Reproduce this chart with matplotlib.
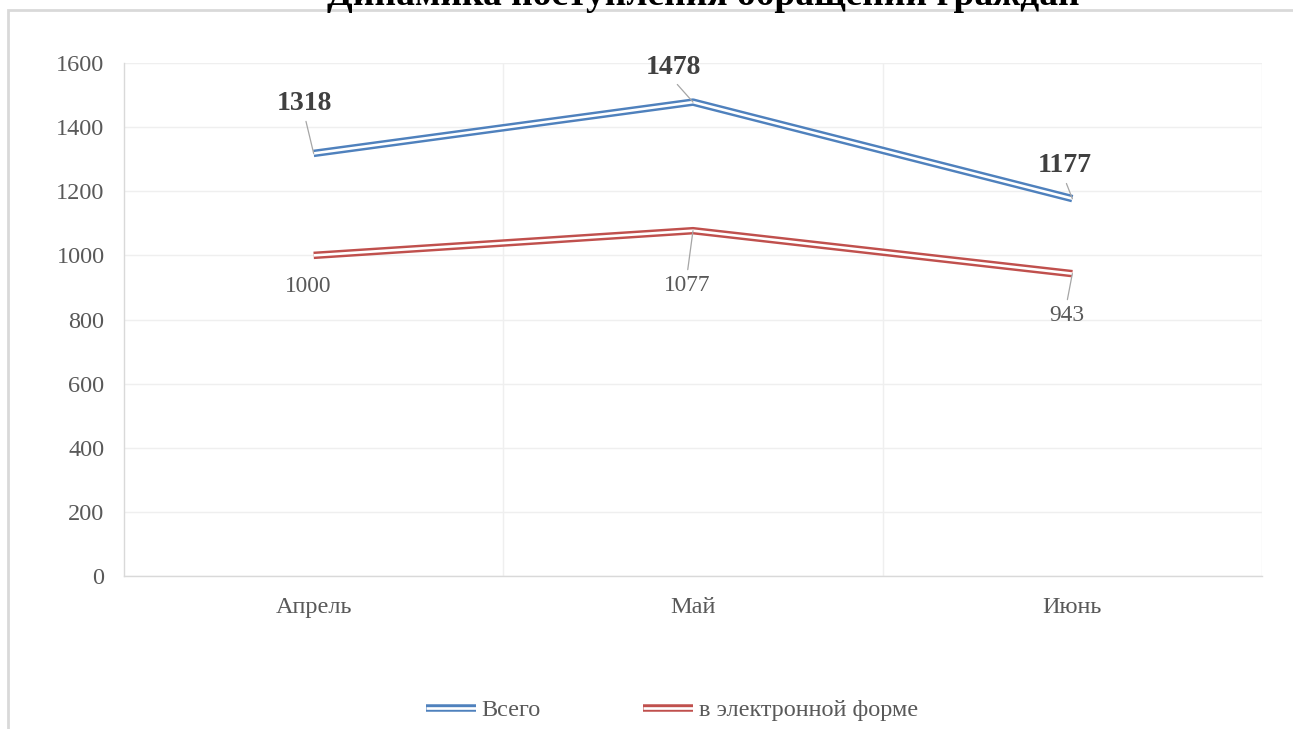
import matplotlib
matplotlib.use("Agg")
import matplotlib.pyplot as plt
from matplotlib.lines import Line2D
from matplotlib.legend_handler import HandlerTuple
from matplotlib.patches import Rectangle

months = ["Апрель", "Май", "Июнь"]
total = [1318, 1478, 1177]
electronic = [1000, 1077, 943]
series_names = ["Всего", "в электронной форме"]
title = "Динамика поступления обращений граждан"
yticks = [0, 200, 400, 600, 800, 1000, 1200, 1400, 1600]

BLUE = "#4f81bd"
RED = "#c0504d"
TXT = "#595959"
FONT = "Liberation Serif"

W, H = 1293, 729
fig = plt.figure(figsize=(W / 100, H / 100), dpi=100)
plt.rcParams["font.family"] = [FONT, "DejaVu Sans"]

# chart border (partially visible)
fig.add_artist(Rectangle((8 / W, -0.1), 1.2, 1 - 10 / H + 0.1, transform=fig.transFigure,
                         fill=False, edgecolor="#d9d9d9", lw=2.0))

ax = fig.add_axes([124 / W, 1 - 576 / H, (1262 - 124) / W, (576 - 63) / H])
x = list(range(len(months)))

LW_OUT, LW_IN = 5.4, 1.9

def double_line(xs, ys, color):
    ax.plot(xs, ys, color=color, lw=LW_OUT, solid_capstyle="butt", zorder=3)
    ax.plot(xs, ys, color="white", lw=LW_IN, solid_capstyle="butt", zorder=4)

double_line(x, total, BLUE)
double_line(x, electronic, RED)

ax.set_xlim(-0.5, len(months) - 0.5)
ax.set_ylim(0, 1600)
ax.set_yticks(yticks)
ax.set_xticks(x)
ax.set_xticklabels(months)
ax.set_xticks([i + 0.5 for i in x], minor=True)
ax.grid(True, which="major", axis="y", color="#efefef", lw=1.0)
ax.grid(True, which="minor", axis="x", color="#efefef", lw=1.0)
ax.tick_params(which="both", length=0)
ax.tick_params(axis="y", pad=14, labelsize=17.5, labelcolor=TXT)
ax.tick_params(axis="x", pad=15, labelsize=17.5, labelcolor=TXT)
for s in ["top", "right"]:
    ax.spines[s].set_visible(False)
for s in ["left", "bottom"]:
    ax.spines[s].set_color("#d9d9d9")
    ax.spines[s].set_linewidth(1.0)
ax.set_axisbelow(True)

# data labels
total_offsets = [(-9, 50), (-20, 35), (-8, 33)]
elec_offsets = [(-5, -31), (-6, -55), (-6, -42)]
for i, v in enumerate(total):
    ax.annotate(str(v), xy=(i, v), xytext=total_offsets[i], textcoords="offset pixels",
                ha="center", va="center", fontsize=20, fontweight="bold", color="#404040",
                arrowprops=dict(arrowstyle="-", color="#a6a6a6", lw=0.9, shrinkA=2, shrinkB=0,
                                relpos=(0.5, 0.0)), zorder=5)
for i, v in enumerate(electronic):
    ap = None
    if i != 0:
        ap = dict(arrowstyle="-", color="#a6a6a6", lw=0.9, shrinkA=2, shrinkB=0, relpos=(0.5, 1.0))
    ax.annotate(str(v), xy=(i, v), xytext=elec_offsets[i], textcoords="offset pixels",
                ha="center", va="center", fontsize=16.8, color=TXT, arrowprops=ap, zorder=5)

# title (cut off at top, as in the reference)
fig.text(703 / W, 1 - 5 / H, title, ha="center", va="baseline", fontsize=27,
         fontweight="bold", color="black")

# legend with double-line handles
handles = []
for c in (BLUE, RED):
    handles.append((Line2D([], [], color=c, lw=LW_OUT, solid_capstyle="butt"),
                    Line2D([], [], color="white", lw=LW_IN, solid_capstyle="butt")))
fig.legend(handles, series_names, handler_map={tuple: HandlerTuple(ndivide=1)},
           loc="center", bbox_to_anchor=(672 / W, 1 - 710 / H), ncol=2, frameon=False,
           fontsize=17.5, labelcolor=TXT, handlelength=2.05, handletextpad=0.25,
           columnspacing=4.2)

fig.savefig("out.png", dpi=100)
